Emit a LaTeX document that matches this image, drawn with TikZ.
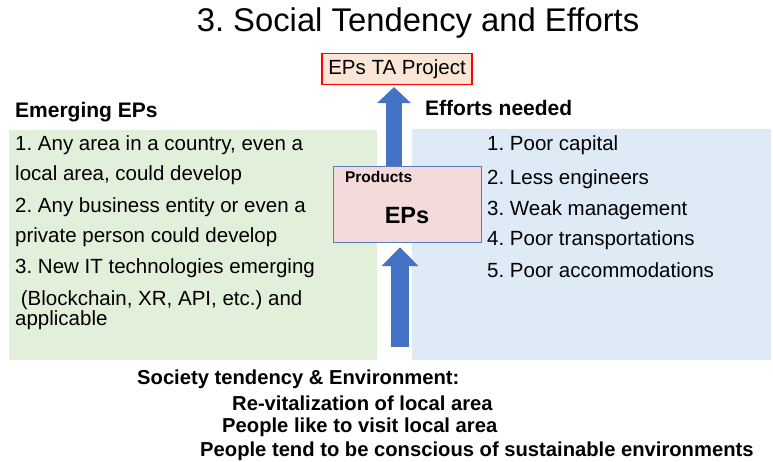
\documentclass[tikz,border=0pt]{standalone}
\usepackage{fontspec}
\setmainfont{Liberation Sans}
\usetikzlibrary{arrows.meta,positioning}
\definecolor{emerginggreen}{HTML}{E2EFDA}
\definecolor{effortblue}{HTML}{DEEBF7}
\definecolor{projectfill}{HTML}{FBE5D6}
\definecolor{productfill}{HTML}{F4DADA}
\definecolor{productline}{HTML}{5B7BC0}
\definecolor{arrowblue}{HTML}{4472C4}
\frenchspacing

\tikzset{
  listitem/.style={anchor=west,inner sep=0pt,font=\fontsize{20.5}{24}\selectfont},
  headline/.style={anchor=west,inner sep=0pt,font=\bfseries\fontsize{20.2}{24}\selectfont},
  blockarrow/.style={arrowblue,line width=17pt,-{Triangle[length=18pt,width=34pt]}}
}

\begin{document}
\begin{tikzpicture}[x=1pt,y=-1pt]
            \useasboundingbox (0,0) rectangle (773,462);
            \node[inner sep=0pt,font=\fontsize{32.8}{36}\selectfont] (title) at (418,23){3. Social Tendency and Efforts};

            \fill[emerginggreen] (9,130) rectangle (377,360);
            \fill[effortblue] (412,129) rectangle (771,360);

            \node[draw=red,line width=1.2pt,fill=projectfill,minimum width=150pt,minimum height=31pt,inner sep=0pt,
                  font=\fontsize{20.5}{24}\selectfont] (project) at (397,69){EPs TA Project};
            \node[draw=productline,fill=productfill,minimum width=148pt,minimum height=76pt,inner sep=0pt] (products) at (407,204){};
            \node[anchor=north west,inner sep=0pt,font=\bfseries\fontsize{15.5}{18}\selectfont,below right=5pt and 12pt of products.north west] (prodlabel){Products};
            \node[inner sep=0pt,font=\bfseries\fontsize{23.5}{28}\selectfont] (eps) at (407,216){EPs};

            \node[headline,font=\bfseries\fontsize{21}{24}\selectfont] (emerging) at (15,112){Emerging EPs};
            \node[headline,font=\bfseries\fontsize{21}{24}\selectfont] (efforts) at (425,108){Efforts needed};

            \foreach \y/\txt [count=\i] in {145/{1. Any area in a country, even a},
                                           175/{local area, could develop},
                                           207/{2. Any business entity or even a},
                                           237/{private person could develop},
                                           268/{3. New IT technologies emerging},
                                           300/{\ (Blockchain, XR, API, etc.) and},
                                           320/{applicable}}
              \node[listitem] (left\i) at (15,\y){\txt};

            \foreach \y/\txt [count=\i] in {145/{1. Poor capital},
                                           179/{2. Less engineers},
                                           210/{3. Weak management},
                                           240/{4. Poor transportations},
                                           270/{5. Poor accommodations}}
              \node[listitem] (right\i) at (487,\y){\txt};

            \node[headline] (society) at (137,379){Society tendency \& Environment:};
            \node[headline] (revital) at (232,403){Re-vitalization of local area};
            \node[headline] (visit) at (222,427){People like to visit local area};
            \node[headline] (conscious) at (200,451){People tend to be conscious of sustainable environments};

            \coordinate (uptail) at (394,166);
            \coordinate (lowtail) at (400,347);
            \draw[blockarrow,line width=16pt,-{Triangle[length=16pt,width=33pt]}] (uptail) -- ([yshift=-2pt]uptail |- project.south);
            \draw[blockarrow,line width=18pt,-{Triangle[length=19pt,width=36pt]}] (lowtail) -- ([yshift=-5pt]lowtail |- products.south);
          \end{tikzpicture}
\end{document}
